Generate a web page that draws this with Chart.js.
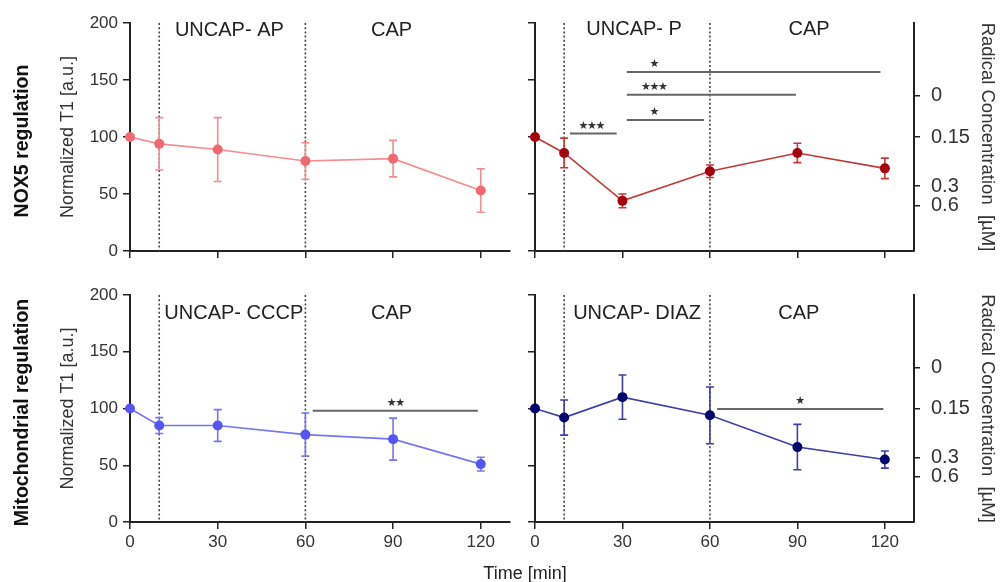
<!DOCTYPE html>
<html><head><meta charset="utf-8">
<script src="https://cdn.jsdelivr.net/npm/chart.js@4.4.1/dist/chart.umd.min.js"></script>
<style>
html,body{margin:0;padding:0;background:#fff;}
#wrap{position:relative;width:1003px;height:582px;overflow:hidden;background:#fff;}
canvas{position:absolute;left:0;top:0;}
</style></head><body>
<div id="wrap">
<canvas id="c0" width="1003" height="582"></canvas>
<canvas id="c1" width="1003" height="582"></canvas>
<canvas id="c2" width="1003" height="582"></canvas>
<canvas id="c3" width="1003" height="582"></canvas>
</div>
<script>
// ---- data ----
const timePoints = [0, 10, 30, 60, 90, 120];
const xTickValues = [0, 30, 60, 90, 120];
const yTickValues = [0, 50, 100, 150, 200];
const radicalTickLabels = ['0', '0.15', '0.3', '0.6'];
const radicalTickT1 = [136, 100, 57, 40];
const phaseBoundaries = [10, 60];

const nox5ApMean = [100, 94, 89, 79, 81, 53];
const nox5ApSd   = [0, 23, 28, 16, 16, 19];
const nox5PMean  = [100, 86, 44, 70, 86, 72.5];
const nox5PSd    = [0, 13, 6, 5.5, 8.5, 9];
const mitoCcpMean = [100, 85, 85, 77, 73, 51];
const mitoCcpSd   = [0, 7, 14, 19, 18.5, 6];
const mitoDiazMean = [100, 92, 110, 94, 66, 55];
const mitoDiazSd   = [0, 15.5, 19.5, 25, 20, 7.5];

const nox5PSignif = [
  {from: 12, to: 28, level: 103, stars: 3, starAt: 19.5},
  {from: 31.5, to: 58, level: 115, stars: 1, starAt: 41},
  {from: 31.5, to: 89.5, level: 137, stars: 3, starAt: 41},
  {from: 31.5, to: 118.5, level: 157, stars: 1, starAt: 41}
];
const mitoCcpSignif = [{from: 62.5, to: 119, level: 98, stars: 2, starAt: 91}];
const mitoDiazSignif = [{from: 62.5, to: 119.5, level: 99.5, stars: 1, starAt: 91}];

const apPhases   = [{text: 'UNCAP- AP', at: 34}, {text: 'CAP', at: 89.5}];
const pPhases    = [{text: 'UNCAP- P', at: 34}, {text: 'CAP', at: 94}];
const ccpPhases  = [{text: 'UNCAP- CCCP', at: 35.5}, {text: 'CAP', at: 89.5}];
const diazPhases = [{text: 'UNCAP- DIAZ', at: 35}, {text: 'CAP', at: 90.5}];

// ---- styling / layout ----
const FAMILY = '"Liberation Sans", Arial, Helvetica, sans-serif';
Chart.defaults.font.family = FAMILY;
const AXIS = '#222';

const panels = [
  {id: 'c0', side: 'left', showX: false, area: {left: 130, right: 510, top: 23, bottom: 251},
   mean: nox5ApMean, sd: nox5ApSd, signif: [], phases: apPhases, phaseY: 193,
   point: 'rgb(242,104,112)', line: 'rgb(244,140,144)', rowLabel: 'NOX5 regulation'},
  {id: 'c1', side: 'right', showX: false, area: {left: 535, right: 914, top: 23, bottom: 251},
   mean: nox5PMean, sd: nox5PSd, signif: nox5PSignif, phases: pPhases, phaseY: 194,
   point: 'rgb(165,0,12)', line: 'rgb(192,58,58)'},
  {id: 'c2', side: 'left', showX: true, area: {left: 130, right: 510, top: 295, bottom: 522},
   mean: mitoCcpMean, sd: mitoCcpSd, signif: mitoCcpSignif, phases: ccpPhases, phaseY: 184,
   point: 'rgb(85,85,245)', line: 'rgb(118,118,245)', rowLabel: 'Mitochondrial regulation', timeLabel: 'Time [min]'},
  {id: 'c3', side: 'right', showX: true, area: {left: 535, right: 914, top: 295, bottom: 522},
   mean: mitoDiazMean, sd: mitoDiazSd, signif: mitoDiazSignif, phases: diazPhases, phaseY: 184,
   point: 'rgb(5,5,110)', line: 'rgb(62,62,168)'}
];

function makePlugin(p) {
  return {
    id: 'decor_' + p.id,
    beforeDatasetsDraw(chart) {
      const {ctx, chartArea: a, scales: {x, y}} = chart;
      ctx.save();
      // phase dotted lines
      ctx.strokeStyle = '#444';
      ctx.lineWidth = 1.6;
      ctx.setLineDash([2, 2.2]);
      phaseBoundaries.forEach(t => {
        const px = x.getPixelForValue(t);
        ctx.beginPath(); ctx.moveTo(px, a.top); ctx.lineTo(px, a.bottom); ctx.stroke();
      });
      ctx.setLineDash([]);
      // error bars
      ctx.strokeStyle = p.line;
      ctx.lineWidth = 1.6;
      timePoints.forEach((t, i) => {
        const sd = p.sd[i];
        if (!sd) return;
        const px = x.getPixelForValue(t);
        const yt = y.getPixelForValue(p.mean[i] + sd);
        const yb = y.getPixelForValue(p.mean[i] - sd);
        ctx.beginPath();
        ctx.moveTo(px, yt); ctx.lineTo(px, yb);
        ctx.moveTo(px - 4, yt); ctx.lineTo(px + 4, yt);
        ctx.moveTo(px - 4, yb); ctx.lineTo(px + 4, yb);
        ctx.stroke();
      });
      ctx.restore();
    },
    afterDatasetsDraw(chart) {
      const {ctx, chartArea: a, scales: {x, y}} = chart;
      ctx.save();
      // significance bars
      p.signif.forEach(s => {
        const yy = y.getPixelForValue(s.level);
        ctx.strokeStyle = '#666';
        ctx.lineWidth = 2;
        ctx.beginPath();
        ctx.moveTo(x.getPixelForValue(s.from), yy);
        ctx.lineTo(x.getPixelForValue(s.to), yy);
        ctx.stroke();
        ctx.font = '11px "DejaVu Sans", sans-serif';
        ctx.fillStyle = '#333';
        ctx.textAlign = 'center';
        ctx.textBaseline = 'middle';
        const cx = x.getPixelForValue(s.starAt);
        const n = s.stars;
        for (let i = 0; i < n; i++) {
          ctx.fillText('\u2605', cx + (i - (n - 1) / 2) * 8.5, yy - 7.5);
        }
      });
      // phase labels
      ctx.font = '20px ' + FAMILY;
      ctx.fillStyle = '#222';
      ctx.textAlign = 'center';
      ctx.textBaseline = 'middle';
      p.phases.forEach(ph => {
        ctx.fillText(ph.text, x.getPixelForValue(ph.at), y.getPixelForValue(p.phaseY));
      });
      // row label
      if (p.rowLabel) {
        ctx.save();
        ctx.translate(23, (a.top + a.bottom) / 2 + 4);
        ctx.rotate(-Math.PI / 2);
        ctx.font = 'bold 19.5px ' + FAMILY;
        ctx.fillStyle = '#111';
        ctx.textAlign = 'center';
        ctx.textBaseline = 'middle';
        ctx.fillText(p.rowLabel, 0, 0);
        ctx.restore();
      }
      if (p.timeLabel) {
        ctx.font = '18px ' + FAMILY;
        ctx.fillStyle = '#222';
        ctx.textAlign = 'center';
        ctx.textBaseline = 'middle';
        ctx.fillText(p.timeLabel, 525, 574);
      }
      ctx.restore();
    }
  };
}

panels.forEach(p => {
  const isRight = p.side === 'right';
  const a = p.area;
  const WL = 74, HB = p.showX ? 30 : 10, WR = isRight ? 84 : 0;
  const padding = {left: a.left - WL, top: a.top, right: 1003 - a.right - WR, bottom: 582 - a.bottom - HB};
  const gridOpts = (len) => ({drawOnChartArea: false, drawTicks: true, tickLength: len, color: AXIS, tickColor: AXIS, lineWidth: 1.5});
  const scales = {
    x: {
      type: 'linear', min: 0, max: 130,
      afterBuildTicks: s => { s.ticks = xTickValues.map(v => ({value: v})); },
      afterFit: s => { s.height = HB; },
      grid: gridOpts(7),
      border: {display: true, color: AXIS, width: 2},
      ticks: {display: p.showX, color: '#333', font: {size: 17}, padding: 3, maxRotation: 0, autoSkip: false}
    },
    y: {
      type: 'linear', position: 'left', min: 0, max: 200,
      afterBuildTicks: s => { s.ticks = yTickValues.map(v => ({value: v})); },
      afterFit: s => { s.width = WL; },
      grid: gridOpts(7),
      border: {display: true, color: AXIS, width: 2},
      ticks: {display: !isRight, color: '#333', font: {size: 17}, padding: 5},
      title: {display: !isRight, text: 'Normalized T1 [a.u.]', color: '#333', font: {size: 18}, padding: {top: 1, bottom: 0}}
    }
  };
  if (isRight) {
    scales.y2 = {
      type: 'linear', position: 'right', min: 0, max: 200,
      afterBuildTicks: s => { s.ticks = radicalTickT1.map(v => ({value: v})); },
      afterFit: s => { s.width = WR; },
      grid: gridOpts(6),
      border: {display: true, color: AXIS, width: 2},
      ticks: {color: '#333', font: {size: 20}, padding: 11, callback: (v, i) => radicalTickLabels[i]},
      title: {display: true, text: 'Radical Concentration  [µM]', color: '#333', font: {size: 18.5}, padding: {top: 0, bottom: 0}}
    };
  }
  new Chart(document.getElementById(p.id), {
    type: 'line',
    data: {
      datasets: [{
        data: timePoints.map((t, i) => ({x: t, y: p.mean[i]})),
        borderColor: p.line,
        borderWidth: 1.6,
        pointBackgroundColor: p.point,
        pointBorderColor: p.point,
        pointBorderWidth: 0,
        pointRadius: 5,
        tension: 0,
        clip: false,
        xAxisID: 'x', yAxisID: 'y'
      }]
    },
    options: {
      responsive: false,
      animation: false,
      events: [],
      layout: {padding},
      plugins: {legend: {display: false}, tooltip: {enabled: false}},
      scales
    },
    plugins: [makePlugin(p)]
  });
});
</script>
</body></html>
